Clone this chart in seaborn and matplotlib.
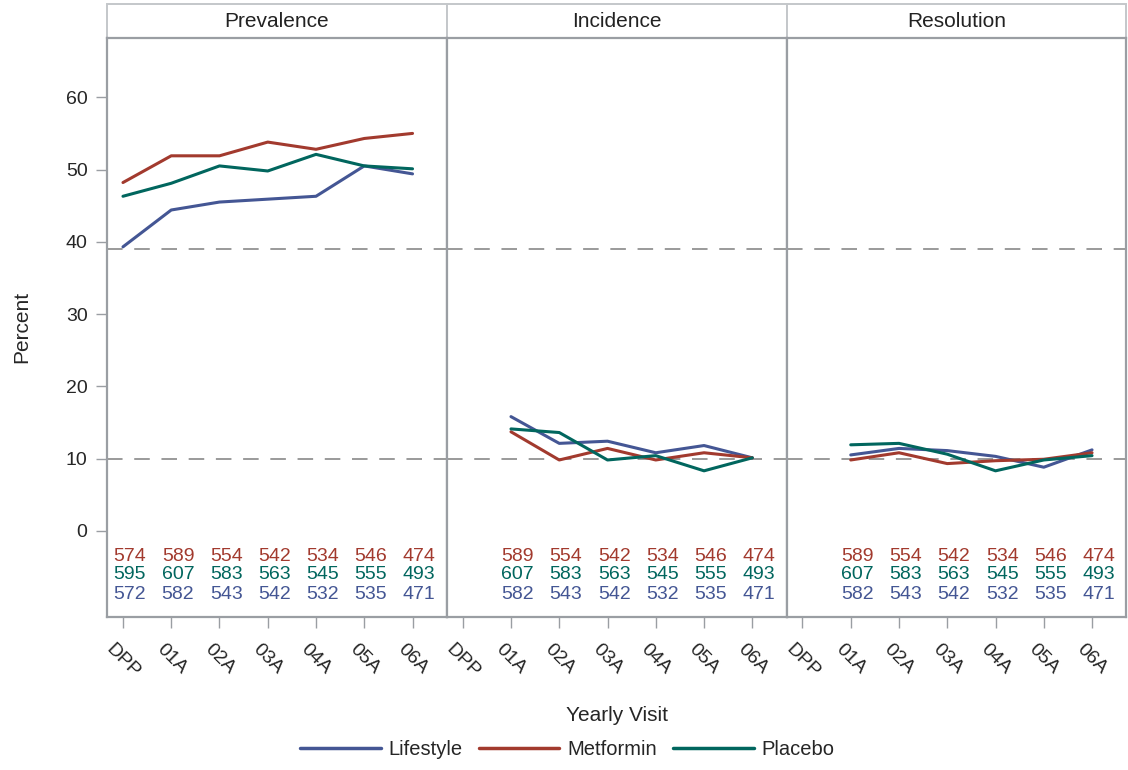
import pandas as pd
import numpy as np
import matplotlib
matplotlib.use('Agg')
import matplotlib.pyplot as plt
import matplotlib.patches as patches
from matplotlib.lines import Line2D
import seaborn as sns

# Data
visits = ['DPP', '01A', '02A', '03A', '04A', '05A', '06A']
groups = ['Lifestyle', 'Metformin', 'Placebo']
panels = ['Prevalence', 'Incidence', 'Resolution']

prev_lifestyle = [39.3, 44.4, 45.5, 45.9, 46.3, 50.5, 49.4]
prev_metformin = [48.2, 51.9, 51.9, 53.8, 52.8, 54.3, 55.0]
prev_placebo = [46.3, 48.1, 50.5, 49.8, 52.1, 50.5, 50.1]

inc_lifestyle = [np.nan, 15.8, 12.1, 12.4, 10.8, 11.8, 10.1]
inc_metformin = [np.nan, 13.7, 9.8, 11.4, 9.8, 10.8, 10.1]
inc_placebo = [np.nan, 14.1, 13.6, 9.8, 10.4, 8.3, 10.1]

res_lifestyle = [np.nan, 10.5, 11.4, 11.1, 10.3, 8.8, 11.2]
res_metformin = [np.nan, 9.8, 10.8, 9.3, 9.7, 9.9, 10.8]
res_placebo = [np.nan, 11.9, 12.1, 10.6, 8.3, 9.8, 10.4]

n_metformin = [574, 589, 554, 542, 534, 546, 474]
n_placebo = [595, 607, 583, 563, 545, 555, 493]
n_lifestyle = [572, 582, 543, 542, 532, 535, 471]

ref_lines = [39, 10]

colors = {'Lifestyle': '#445694', 'Metformin': '#A23A2E', 'Placebo': '#01665E'}

series = {
    'Prevalence': {'Lifestyle': prev_lifestyle, 'Metformin': prev_metformin, 'Placebo': prev_placebo},
    'Incidence': {'Lifestyle': inc_lifestyle, 'Metformin': inc_metformin, 'Placebo': inc_placebo},
    'Resolution': {'Lifestyle': res_lifestyle, 'Metformin': res_metformin, 'Placebo': res_placebo},
}

rows = []
for p in panels:
    for g in groups:
        for i, v in enumerate(series[p][g]):
            rows.append({'Panel': p, 'Group': g, 'x': i, 'Visit': visits[i], 'Percent': v})
df = pd.DataFrame(rows).dropna()

sns.set_style('white')
plt.rcParams['font.family'] = ['Liberation Sans', 'DejaVu Sans']

fig, axes = plt.subplots(1, 3, figsize=(11.28, 7.7), dpi=100, sharey=True)
fig.subplots_adjust(left=0.0949, right=0.9985, top=0.9506, bottom=0.199, wspace=0)

frame_col = '#9a9ea3'
for ax, p in zip(axes, panels):
    sub = df[df['Panel'] == p]
    sns.lineplot(data=sub, x='x', y='Percent', hue='Group', hue_order=groups,
                 palette=colors, linewidth=2.2, ax=ax, legend=False)
    for r in ref_lines:
        ax.axhline(r, color='#9a9a9a', linewidth=1.4, dashes=(8, 6), zorder=0)
    # at-risk counts
    start = 0 if p == 'Prevalence' else 1
    for i in range(start, len(visits)):
        for yv, nlist, g in [(-3.5, n_metformin, 'Metformin'),
                             (-6.1, n_placebo, 'Placebo'),
                             (-8.8, n_lifestyle, 'Lifestyle')]:
            ax.text(i + 0.14, yv, str(nlist[i]), color=colors[g], ha='center', va='center',
                    fontsize=14)
    ax.set_xlim(-0.33, 6.71)
    ax.set_ylim(-11.9, 68.2)
    ax.set_xticks(range(len(visits)))
    ax.set_xticklabels(visits, rotation=-45, ha='center', va='top', fontsize=14)
    ax.set_yticks([0, 10, 20, 30, 40, 50, 60])
    ax.set_xlabel('')
    ax.set_ylabel('')
    ax.tick_params(axis='both', which='both', direction='out', length=8, width=1,
                   color=frame_col, labelsize=14, pad=6, bottom=True, left=(p == 'Prevalence'))
    ax.tick_params(axis='x', pad=9)
    for s in ax.spines.values():
        s.set_color(frame_col)
        s.set_linewidth(1.6)
    # panel header
    rect = patches.Rectangle((0, 1), 1, 0.0587, transform=ax.transAxes, clip_on=False,
                             facecolor='white', edgecolor='#c4c7ca', linewidth=1.4)
    ax.add_patch(rect)
    ax.text(0.5, 1 + 0.0587 / 2, p, transform=ax.transAxes, ha='center', va='center',
            fontsize=15, color='#222222')

axes[0].tick_params(axis='y', labelleft=True)

fig.text(0.0195, 0.575, 'Percent', rotation=90, ha='center', va='center', fontsize=15)
fig.text(0.547, 0.071, 'Yearly Visit', ha='center', va='center', fontsize=15)

handles = [Line2D([0], [0], color=colors[g], linewidth=2.5) for g in groups]
fig.legend(handles, groups, loc='center', bbox_to_anchor=(0.503, 0.026), ncol=3,
           frameon=False, fontsize=14.5, handlelength=4.0, columnspacing=0.8, handletextpad=0.4)

fig.savefig('out.png', dpi=100)
